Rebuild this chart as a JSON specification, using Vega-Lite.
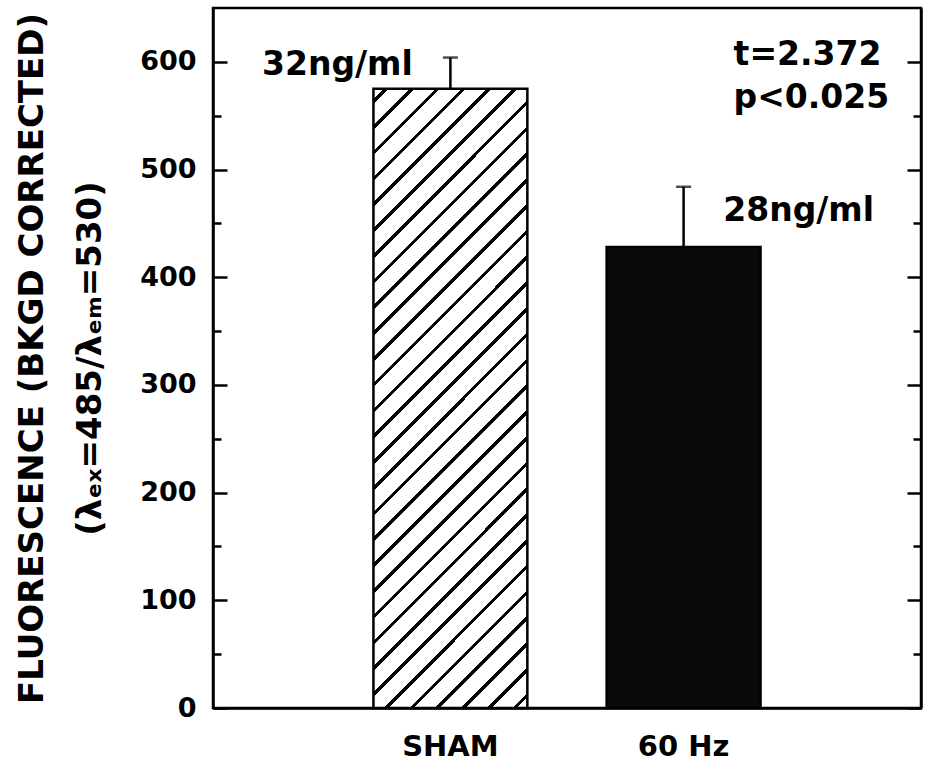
{
  "$schema": "https://vega.github.io/schema/vega-lite/v6.json",
  "width": 708,
  "height": 700,
  "autosize": {"type": "none"},
  "padding": {"left": 213, "top": 8, "right": 5, "bottom": 63},
  "background": "white",
  "config": {
    "view": {"stroke": "black", "strokeWidth": 2.5},
    "axis": {"domainColor": "black", "domainWidth": 2.5, "tickColor": "black", "tickWidth": 2.5, "labelColor": "black", "titleColor": "black", "grid": false},
    "text": {"font": "DejaVu Sans", "color": "black"}
  },
  "datasets": {
    "bars": [
      {"group": "SHAM", "mean": 575, "err": 604},
      {"group": "60 Hz", "mean": 428, "err": 484}
    ],
    "notes": [
      {"id": "a", "group": "SHAM", "v": 588, "label": "32ng/ml"},
      {"id": "b", "group": "60 Hz", "v": 452, "label": "28ng/ml"},
      {"id": "c", "group": "60 Hz", "v": 597, "label": "t=2.372"},
      {"id": "c", "group": "60 Hz", "v": 557, "label": "p<0.025"}
    ]
  },
  "layer": [
    {
      "layer": [
        {
          "data": {"name": "bars"},
          "transform": [{"filter": "datum.group === 'SHAM'"}],
          "mark": {
            "type": "bar", "stroke": "black", "strokeWidth": 2.5,
            "fill": {
              "gradient": "linear", "x1": 0, "y1": 0, "x2": 0.2926, "y2": 1.176,
              "stops": [
                {"offset": 0, "color": "white"},
                {"offset": 0.0137, "color": "white"}, {"offset": 0.0137, "color": "black"}, {"offset": 0.0197, "color": "black"}, {"offset": 0.0197, "color": "white"},
                {"offset": 0.0470, "color": "white"}, {"offset": 0.0470, "color": "black"}, {"offset": 0.0530, "color": "black"}, {"offset": 0.0530, "color": "white"},
                {"offset": 0.0803, "color": "white"}, {"offset": 0.0803, "color": "black"}, {"offset": 0.0863, "color": "black"}, {"offset": 0.0863, "color": "white"},
                {"offset": 0.1137, "color": "white"}, {"offset": 0.1137, "color": "black"}, {"offset": 0.1197, "color": "black"}, {"offset": 0.1197, "color": "white"},
                {"offset": 0.1470, "color": "white"}, {"offset": 0.1470, "color": "black"}, {"offset": 0.1530, "color": "black"}, {"offset": 0.1530, "color": "white"},
                {"offset": 0.1803, "color": "white"}, {"offset": 0.1803, "color": "black"}, {"offset": 0.1863, "color": "black"}, {"offset": 0.1863, "color": "white"},
                {"offset": 0.2137, "color": "white"}, {"offset": 0.2137, "color": "black"}, {"offset": 0.2197, "color": "black"}, {"offset": 0.2197, "color": "white"},
                {"offset": 0.2470, "color": "white"}, {"offset": 0.2470, "color": "black"}, {"offset": 0.2530, "color": "black"}, {"offset": 0.2530, "color": "white"},
                {"offset": 0.2803, "color": "white"}, {"offset": 0.2803, "color": "black"}, {"offset": 0.2863, "color": "black"}, {"offset": 0.2863, "color": "white"},
                {"offset": 0.3137, "color": "white"}, {"offset": 0.3137, "color": "black"}, {"offset": 0.3197, "color": "black"}, {"offset": 0.3197, "color": "white"},
                {"offset": 0.3470, "color": "white"}, {"offset": 0.3470, "color": "black"}, {"offset": 0.3530, "color": "black"}, {"offset": 0.3530, "color": "white"},
                {"offset": 0.3803, "color": "white"}, {"offset": 0.3803, "color": "black"}, {"offset": 0.3863, "color": "black"}, {"offset": 0.3863, "color": "white"},
                {"offset": 0.4137, "color": "white"}, {"offset": 0.4137, "color": "black"}, {"offset": 0.4197, "color": "black"}, {"offset": 0.4197, "color": "white"},
                {"offset": 0.4470, "color": "white"}, {"offset": 0.4470, "color": "black"}, {"offset": 0.4530, "color": "black"}, {"offset": 0.4530, "color": "white"},
                {"offset": 0.4803, "color": "white"}, {"offset": 0.4803, "color": "black"}, {"offset": 0.4863, "color": "black"}, {"offset": 0.4863, "color": "white"},
                {"offset": 0.5137, "color": "white"}, {"offset": 0.5137, "color": "black"}, {"offset": 0.5197, "color": "black"}, {"offset": 0.5197, "color": "white"},
                {"offset": 0.5470, "color": "white"}, {"offset": 0.5470, "color": "black"}, {"offset": 0.5530, "color": "black"}, {"offset": 0.5530, "color": "white"},
                {"offset": 0.5803, "color": "white"}, {"offset": 0.5803, "color": "black"}, {"offset": 0.5863, "color": "black"}, {"offset": 0.5863, "color": "white"},
                {"offset": 0.6137, "color": "white"}, {"offset": 0.6137, "color": "black"}, {"offset": 0.6197, "color": "black"}, {"offset": 0.6197, "color": "white"},
                {"offset": 0.6470, "color": "white"}, {"offset": 0.6470, "color": "black"}, {"offset": 0.6530, "color": "black"}, {"offset": 0.6530, "color": "white"},
                {"offset": 0.6803, "color": "white"}, {"offset": 0.6803, "color": "black"}, {"offset": 0.6863, "color": "black"}, {"offset": 0.6863, "color": "white"},
                {"offset": 0.7137, "color": "white"}, {"offset": 0.7137, "color": "black"}, {"offset": 0.7197, "color": "black"}, {"offset": 0.7197, "color": "white"},
                {"offset": 0.7470, "color": "white"}, {"offset": 0.7470, "color": "black"}, {"offset": 0.7530, "color": "black"}, {"offset": 0.7530, "color": "white"},
                {"offset": 0.7803, "color": "white"}, {"offset": 0.7803, "color": "black"}, {"offset": 0.7863, "color": "black"}, {"offset": 0.7863, "color": "white"},
                {"offset": 0.8137, "color": "white"}, {"offset": 0.8137, "color": "black"}, {"offset": 0.8197, "color": "black"}, {"offset": 0.8197, "color": "white"},
                {"offset": 0.8470, "color": "white"}, {"offset": 0.8470, "color": "black"}, {"offset": 0.8530, "color": "black"}, {"offset": 0.8530, "color": "white"},
                {"offset": 0.8803, "color": "white"}, {"offset": 0.8803, "color": "black"}, {"offset": 0.8863, "color": "black"}, {"offset": 0.8863, "color": "white"},
                {"offset": 0.9137, "color": "white"}, {"offset": 0.9137, "color": "black"}, {"offset": 0.9197, "color": "black"}, {"offset": 0.9197, "color": "white"},
                {"offset": 0.9470, "color": "white"}, {"offset": 0.9470, "color": "black"}, {"offset": 0.9530, "color": "black"}, {"offset": 0.9530, "color": "white"},
                {"offset": 0.9803, "color": "white"}, {"offset": 0.9803, "color": "black"}, {"offset": 0.9863, "color": "black"}, {"offset": 0.9863, "color": "white"},
                {"offset": 1, "color": "white"}
              ]
            }
          },
          "encoding": {
            "x": {"field": "group", "type": "nominal"},
            "y": {"field": "mean", "type": "quantitative"}
          }
        },
        {
          "data": {"name": "bars"},
          "transform": [{"filter": "datum.group === '60 Hz'"}],
          "mark": {"type": "bar", "fill": "#0a0a0a", "stroke": "black", "strokeWidth": 2.5},
          "encoding": {
            "x": {"field": "group", "type": "nominal"},
            "y": {"field": "mean", "type": "quantitative"}
          }
        },
        {
          "data": {"name": "bars"},
          "mark": {"type": "rule", "color": "black", "strokeWidth": 2.5},
          "encoding": {
            "x": {"field": "group", "type": "nominal"},
            "y": {"field": "mean", "type": "quantitative"},
            "y2": {"field": "err"}
          }
        },
        {
          "data": {"name": "notes"},
          "transform": [{"filter": "datum.id === 'a'"}],
          "mark": {"type": "text", "fontSize": 33, "fontWeight": "bold", "align": "center", "baseline": "alphabetic", "dx": -113},
          "encoding": {
            "x": {"field": "group", "type": "nominal"},
            "y": {"field": "v", "type": "quantitative"},
            "text": {"field": "label"}
          }
        },
        {
          "data": {"name": "notes"},
          "transform": [{"filter": "datum.id === 'b'"}],
          "mark": {"type": "text", "fontSize": 33, "fontWeight": "bold", "align": "center", "baseline": "alphabetic", "dx": 115},
          "encoding": {
            "x": {"field": "group", "type": "nominal"},
            "y": {"field": "v", "type": "quantitative"},
            "text": {"field": "label"}
          }
        },
        {
          "data": {"name": "notes"},
          "transform": [{"filter": "datum.id === 'c'"}],
          "mark": {"type": "text", "fontSize": 33, "fontWeight": "bold", "align": "left", "baseline": "alphabetic", "dx": 50},
          "encoding": {
            "x": {"field": "group", "type": "nominal"},
            "y": {"field": "v", "type": "quantitative"},
            "text": {"field": "label"}
          }
        }
      ],
      "encoding": {
        "x": {
          "field": "group", "type": "nominal",
          "scale": {"domain": ["SHAM", "60 Hz"], "paddingInner": 0.34, "paddingOuter": 0.688},
          "axis": {"orient": "bottom", "ticks": false, "labelAngle": 0, "labelFont": "DejaVu Sans", "labelFontSize": 29, "labelFontWeight": "bold", "labelPadding": 24, "title": null}
        },
        "y": {
          "type": "quantitative",
          "scale": {"domain": [0, 650], "nice": false, "zero": true},
          "axis": {
            "orient": "left",
            "values": [0, 50, 100, 150, 200, 250, 300, 350, 400, 450, 500, 550, 600],
            "labelExpr": "datum.value % 100 === 0 ? datum.label : ''",
            "tickSize": {"condition": {"test": "datum.value % 100 === 0", "value": -14}, "value": -8},
            "labelPadding": 31,
            "labelFont": "DejaVu Sans", "labelFontWeight": "bold", "labelFontSize": 27,
            "title": ["FLUORESCENCE (BKGD CORRECTED)", "(λₑₓ=485/λₑₘ=530)"],
            "titleFont": "DejaVu Sans", "titleFontSize": 34, "titleFontWeight": "bold",
            "titleLineHeight": 58, "titlePadding": 32
          }
        }
      }
    },
    {
      "data": {"name": "bars"},
      "mark": {"type": "tick", "orient": "horizontal", "size": 15, "thickness": 2.5, "color": "black"},
      "encoding": {
        "x": {
          "field": "group", "type": "nominal",
          "scale": {"domain": ["SHAM", "60 Hz"], "paddingInner": 0.34, "paddingOuter": 0.688},
          "axis": {"orient": "bottom", "ticks": false, "labelAngle": 0, "labelFont": "DejaVu Sans", "labelFontSize": 29, "labelFontWeight": "bold", "labelPadding": 24, "title": null}
        },
        "y": {
          "field": "err", "type": "quantitative",
          "scale": {"domain": [0, 650], "nice": false, "zero": true},
          "axis": {
            "orient": "right",
            "values": [0, 50, 100, 150, 200, 250, 300, 350, 400, 450, 500, 550, 600],
            "labels": false,
            "tickSize": {"condition": {"test": "datum.value % 100 === 0", "value": -14}, "value": -8},
            "title": null
          }
        }
      }
    }
  ],
  "resolve": {"scale": {"y": "independent"}}
}
